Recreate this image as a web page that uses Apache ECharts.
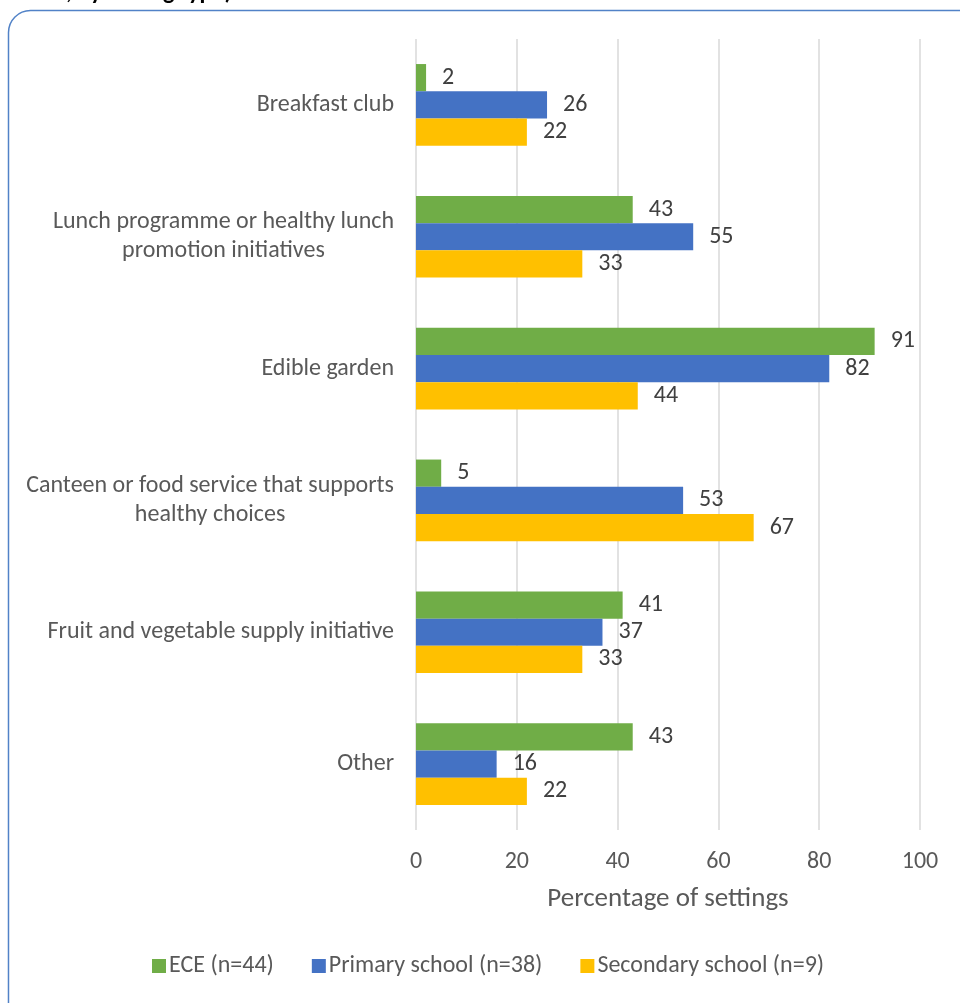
<!DOCTYPE html>
<html>
<head>
<meta charset="utf-8">
<script src="https://cdn.jsdelivr.net/npm/echarts@6/dist/echarts.min.js"></script>
<style>
  html, body { margin: 0; padding: 0; background: #ffffff; }
  #chart { width: 960px; height: 1003px; }
</style>
</head>
<body>
<div id="chart"></div>
<script>
// Food-related initiatives by setting type (percentage of settings)
const categories = [
  'Breakfast club',
  'Lunch programme or healthy lunch\npromotion initiatives',
  'Edible garden',
  'Canteen or food service that supports\nhealthy choices',
  'Fruit and vegetable supply initiative',
  'Other'
];
const seriesNames = ['ECE (n=44)', 'Primary school (n=38)', 'Secondary school (n=9)'];
const eceValues = [2, 43, 91, 5, 41, 43];
const primaryValues = [26, 55, 82, 53, 37, 16];
const secondaryValues = [22, 33, 44, 67, 33, 22];
const xTicks = [0, 20, 40, 60, 80, 100];

const FONT = 'Carlito, Lato, sans-serif';
const FS = 24;
const colors = ['#70AD47', '#4472C4', '#FFC000'];

const chart = echarts.init(document.getElementById('chart'), null, { renderer: 'canvas' });

function barSeries(name, data, color) {
  return {
    name: name,
    type: 'bar',
    data: data,
    barGap: '0%',
    barCategoryGap: '38%',
    itemStyle: { color: color },
    label: {
      show: true,
      position: 'right',
      distance: 16,
      color: '#404040',
      fontFamily: FONT,
      fontSize: FS
    },
    emphasis: { disabled: true }
  };
}

chart.setOption({
  animation: false,
  textStyle: { fontFamily: FONT },
  graphic: [
    {
      type: 'rect',
      shape: { x: 8.5, y: 10.5, width: 980, height: 1020, r: 22 },
      style: { fill: 'none', stroke: '#5182c7', lineWidth: 1.5 },
      z: -1
    },
    {
      type: 'text',
      x: 232,
      y: 5,
      style: {
        text: ', by setting type)',
        font: 'bold 24px ' + FONT,
        fill: '#000000',
        textAlign: 'right',
        textVerticalAlign: 'bottom'
      }
    }
  ],
  legend: {
    data: seriesNames,
    bottom: 20,
    left: 147,
    itemWidth: 14,
    itemHeight: 14,
    itemGap: 38,
    icon: 'rect',
    textStyle: { color: '#595959', fontSize: FS, fontFamily: FONT, padding: [0, 0, 0, -2] }
  },
  grid: { left: 416, right: 40, top: 39, bottom: 173 },
  xAxis: {
    type: 'value',
    min: xTicks[0],
    max: xTicks[xTicks.length - 1],
    interval: xTicks[1] - xTicks[0],
    name: 'Percentage of settings',
    nameLocation: 'middle',
    nameGap: 56,
    nameTextStyle: { color: '#595959', fontSize: 27, fontFamily: FONT },
    axisLine: { show: false },
    axisTick: { show: false },
    axisLabel: { color: '#595959', fontSize: FS, fontFamily: FONT, margin: 20 },
    splitLine: { show: true, lineStyle: { color: '#d9d9d9', width: 1.5 } }
  },
  yAxis: {
    type: 'category',
    data: categories,
    inverse: true,
    axisLine: { show: false },
    axisTick: { show: false },
    axisLabel: {
      color: '#595959',
      fontSize: FS,
      fontFamily: FONT,
      margin: 22,
      lineHeight: 29,
      formatter: function (v) {
        return v.split('\n').map(function (l) { return '{c|' + l + '}'; }).join('\n');
      },
      rich: {
        c: { align: 'center', color: '#595959', fontSize: FS, fontFamily: FONT, lineHeight: 29 }
      }
    },
    splitLine: { show: false }
  },
  series: [
    barSeries(seriesNames[0], eceValues, colors[0]),
    barSeries(seriesNames[1], primaryValues, colors[1]),
    barSeries(seriesNames[2], secondaryValues, colors[2])
  ]
});
</script>
</body>
</html>
